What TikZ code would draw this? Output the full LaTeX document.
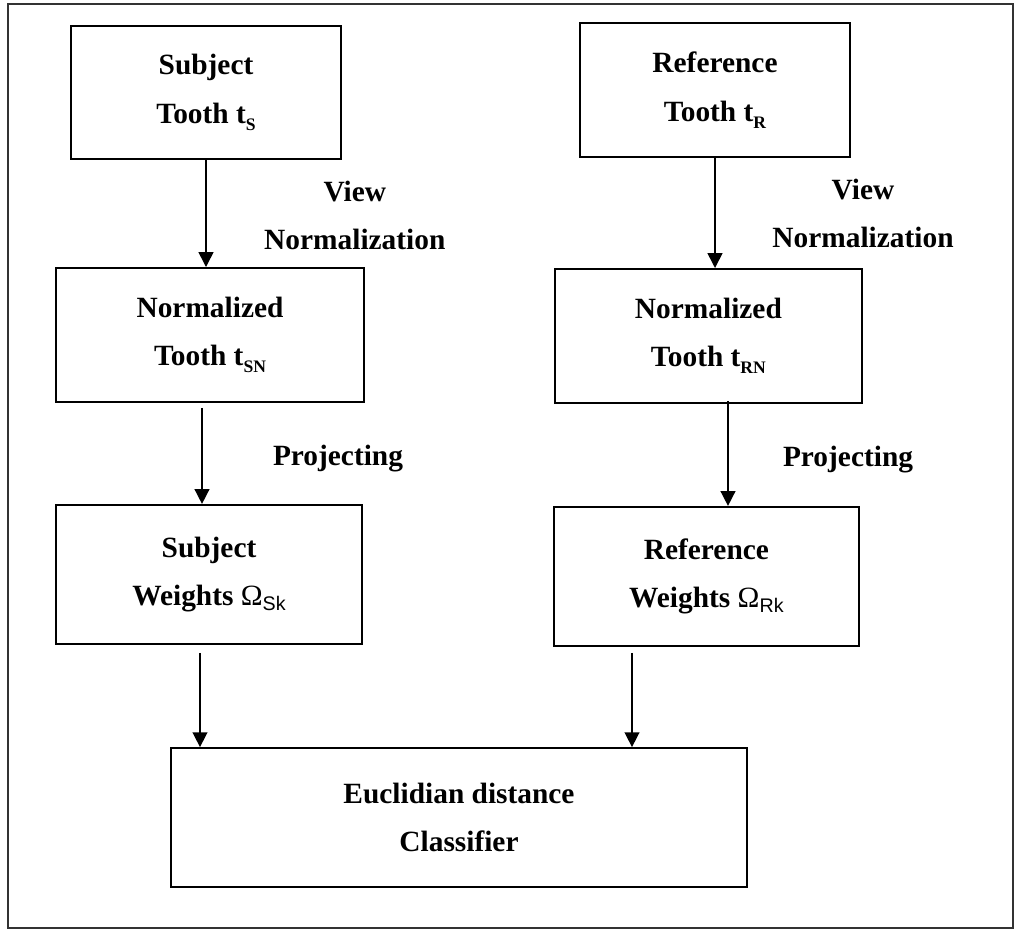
\documentclass[tikz,border=0pt]{standalone}
\usepackage{fontspec}
\setmainfont{Liberation Serif}
\newfontfamily\arialfam{Liberation Sans}
\usetikzlibrary{arrows.meta}

% lowered indices
\newcommand{\tsub}[1]{\raisebox{-5pt}{\fontsize{12.5pt}{13pt}\selectfont #1}}
\newcommand{\wsub}[1]{\raisebox{-3.5pt}{\arialfam\mdseries\fontsize{14pt}{15pt}\selectfont #1}}

\begin{document}
\begin{tikzpicture}[
    box/.style={draw, line width=1.4pt, align=center, minimum width=#1},
    box/.default=6.75cm,
    flow/.style={line width=1.1pt, -{Triangle[length=0.37cm,width=0.37cm]}},
    note/.style={align=center, anchor=base},
    font=\fontsize{20.9pt}{34.5pt}\selectfont\bfseries]
  \useasboundingbox (-0.2,-0.025) rectangle (25.175,23.2);
  \draw[line width=1pt, black!80] (0,0) rectangle (25.125,23.1);

  % the two inputs
  \node[box, minimum height=3.325cm] (subT) at (4.95,20.89) {Subject\\Tooth t\tsub{S}};
  \node[box, minimum height=3.35cm] (refT) at (17.675,20.95) {Reference\\Tooth t\tsub{R}};
  % view normalization
  \node[box=7.7cm, minimum height=3.35cm] (normS) at (5.05,14.825) {Normalized\\Tooth t\tsub{SN}};
  \node[box=7.675cm, minimum height=3.35cm] (normR) at (17.51,14.8) {Normalized\\Tooth t\tsub{RN}};
  % projection weights
  \node[box=7.65cm, minimum height=3.475cm] (wS) at (5.025,8.84) {Subject\\Weights {\mdseries Ω}\wsub{Sk}};
  \node[box=7.625cm, minimum height=3.475cm] (wR) at (17.46,8.79) {Reference\\Weights {\mdseries Ω}\wsub{Rk}};
  \node[box=14.4cm, minimum height=3.475cm] (euc) at (11.275,2.76) {Euclidian distance\\Classifier};

  % base sits on the last line
  \node[note] (viewS) at (8.67,16.95) {View\\Normalization};
  \node[note] (viewR) at (21.375,17.0) {View\\Normalization};
  \node[note] (projS) at (8.25,11.575) {Projecting};
  \node[note] (projR) at (21.0,11.525) {Projecting};

  \draw[flow] (subT.south) -- (subT.south |- normS.north);
  \draw[flow] (refT.south) -- (refT.south |- normR.north);
  \draw[flow] ([shift={(-0.2,-0.125)}]normS.south) coordinate (p1) -- (p1 |- wS.north);
  \draw[flow] ([shift={(0.49,0.075)}]normR.south) coordinate (p2) -- (p2 |- wR.north);
  \draw[flow] ([shift={(-0.225,-0.2)}]wS.south) coordinate (p3) -- (p3 |- euc.north);
  \draw[flow] ([shift={(-1.86,-0.15)}]wR.south) coordinate (p4) -- (p4 |- euc.north);
\end{tikzpicture}
\end{document}
